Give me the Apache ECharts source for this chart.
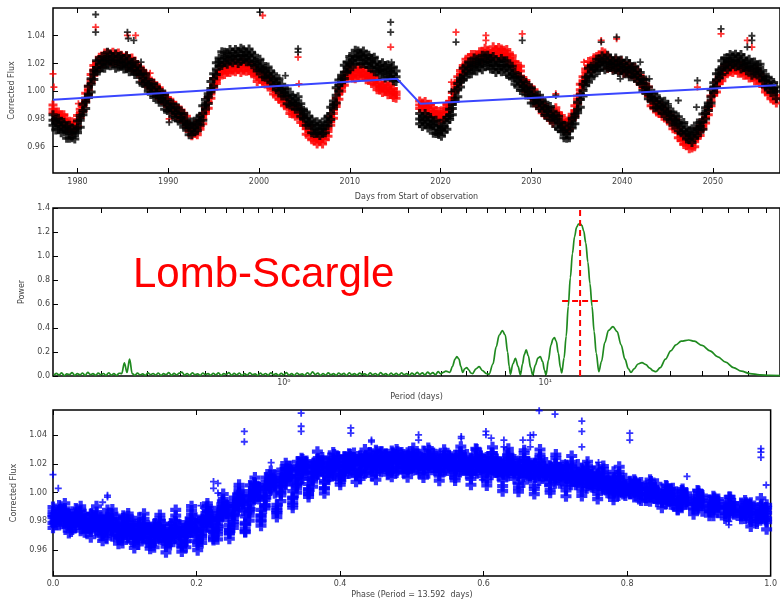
<!DOCTYPE html>
<html><head><meta charset="utf-8">
<script src="https://cdn.jsdelivr.net/npm/echarts@6.0.0/dist/echarts.min.js"></script>
<style>html,body{margin:0;padding:0;background:#fff}#c{width:780px;height:602px}</style>
</head><body><div id="c"></div>
<script>
// ---------- Panel 1: light curve (days from start of observation, corrected flux) ----------
const days = [
1977.3,1977.6,1977.9,1978.2,1978.5,1978.8,1979.1,1979.4,1979.7,1980.0,
1980.3,1980.6,1980.9,1981.2,1981.5,1981.8,1982.1,1982.4,1982.7,1983.0,
1983.3,1983.6,1983.9,1984.2,1984.5,1984.8,1985.1,1985.4,1985.7,1986.0,
1986.3,1986.6,1986.9,1987.2,1987.5,1987.8,1988.1,1988.4,1988.7,1989.0,
1989.3,1989.6,1989.9,1990.2,1990.5,1990.8,1991.1,1991.4,1991.7,1992.0,
1992.3,1992.6,1992.9,1993.2,1993.5,1993.8,1994.1,1994.4,1994.7,1995.0,
1995.3,1995.6,1995.9,1996.2,1996.5,1996.8,1997.1,1997.4,1997.7,1998.0,
1998.3,1998.6,1998.9,1999.2,1999.5,1999.8,2000.1,2000.4,2000.7,2001.0,
2001.3,2001.6,2001.9,2002.2,2002.5,2002.8,2003.1,2003.4,2003.7,2004.0,
2004.3,2004.6,2004.9,2005.2,2005.5,2005.8,2006.1,2006.4,2006.7,2007.0,
2007.3,2007.6,2007.9,2008.2,2008.5,2008.8,2009.1,2009.4,2009.7,2010.0,
2010.3,2010.6,2010.9,2011.2,2011.5,2011.8,2012.1,2012.4,2012.7,2013.0,
2013.3,2013.6,2013.9,2014.2,2014.5,2014.8,2015.1,
2017.7,2018.0,2018.3,2018.6,2018.9,2019.2,2019.5,2019.8,2020.1,2020.4,
2020.7,2021.0,2021.3,2021.6,2021.9,2022.2,2022.5,2022.8,2023.1,2023.4,
2023.7,2024.0,2024.3,2024.6,2024.9,2025.2,2025.5,2025.8,2026.1,2026.4,
2026.7,2027.0,2027.3,2027.6,2027.9,2028.2,2028.5,2028.8,2029.1,2029.4,
2029.7,2030.0,2030.3,2030.6,2030.9,2031.2,2031.5,2031.8,2032.1,2032.4,
2032.7,2033.0,2033.3,2033.6,2033.9,2034.2,2034.5,2034.8,2035.1,2035.4,
2035.7,2036.0,2036.3,2036.6,2036.9,2037.2,2037.5,2037.8,2038.1,2038.4,
2038.7,2039.0,2039.3,2039.6,2039.9,2040.2,2040.5,2040.8,2041.1,2041.4,
2041.7,2042.0,2042.3,2042.6,2042.9,2043.2,2043.5,2043.8,2044.1,2044.4,
2044.7,2045.0,2045.3,2045.6,2045.9,2046.2,2046.5,2046.8,2047.1,2047.4,
2047.7,2048.0,2048.3,2048.6,2048.9,2049.2,2049.5,2049.8,2050.1,2050.4,
2050.7,2051.0,2051.3,2051.6,2051.9,2052.2,2052.5,2052.8,2053.1,2053.4,
2053.7,2054.0,2054.3,2054.6,2054.9,2055.2,2055.5,2055.8,2056.1,2056.4,
2056.7,2057.0
];
const blackHigh = [
.983,.9795,.9805,.978,.9775,.9745,.9755,.9735,.9725,.9785,
.9825,.9905,.995,1.0035,1.009,1.015,1.022,1.0225,1.025,1.0245,
1.028,1.0268,1.025,1.027,1.025,1.0255,1.0235,1.0255,1.023,1.0205,
1.0215,1.018,1.0165,1.0125,1.0125,1.0085,1.005,1.0055,1.0025,1.001,
.9975,.998,.994,.9905,.991,.988,.988,.984,.984,.980,
.9765,.9778,.977,.9805,.982,.9895,.994,.9982,1.007,1.0125,
1.0205,1.024,1.0285,1.028,1.027,1.030,1.0285,1.030,1.0285,1.031,
1.0298,1.0283,1.0305,1.0275,1.026,1.022,1.023,1.020,1.0165,1.0175,
1.014,1.0125,1.009,1.009,1.005,1.0015,1.0015,.9975,.997,.9945,
.996,.991,.986,.985,.9815,.980,.9765,.978,.9765,.9755,
.980,.9815,.9885,.993,1.0025,1.0081,1.0115,1.0187,1.021,1.025,
1.0255,1.0295,1.029,1.0277,1.029,1.0263,1.026,1.0235,1.0245,1.0215,
1.0187,1.0205,1.0185,1.019,1.0167,1.0175,1.0145,
.984,.982,.984,.9815,.981,.9782,.979,.9758,.9745,.979,
.9811,.987,.9905,1.0005,1.0055,1.0095,1.0165,1.018,1.021,1.0205,
1.024,1.023,1.0225,1.026,1.0255,1.026,1.0235,1.025,1.0225,1.021,
1.0235,1.022,1.022,1.018,1.018,1.0135,1.010,1.0105,1.007,1.0062,
1.0025,1.0025,.9995,.9965,.997,.993,.992,.9885,.989,.9855,
.9825,.982,.9775,.9755,.9725,.977,.9804,.9835,.992,.9975,
1.005,1.010,1.0165,1.018,1.0186,1.023,1.023,1.0255,1.024,1.026,
1.024,1.022,1.024,1.022,1.0225,1.020,1.022,1.020,1.017,1.018,
1.015,1.0135,1.0085,1.008,1.003,.9985,.9985,.9955,.9945,.9915,
.9928,.989,.985,.985,.982,.9815,.977,.9775,.974,.971,
.973,.973,.977,.9775,.9835,.988,.9915,1.001,1.006,1.0125,
1.0155,1.022,1.0237,1.0235,1.0265,1.0255,1.0267,1.025,1.0265,1.024,
1.0217,1.023,1.0205,1.021,1.0191,1.0195,1.015,1.0105,1.010,1.007,
1.0062,1.003
];
const blackMid = [
.979,.977,.9755,.9745,.973,.9715,.970,.9695,.970,.9735,
.979,.986,.992,.998,1.005,1.0125,1.017,1.019,1.0205,1.0215,
1.0225,1.0228,1.0225,1.022,1.0215,1.021,1.0205,1.020,1.019,1.018,
1.0165,1.0145,1.012,1.0095,1.007,1.0045,1.0025,1.0005,.999,.9965,
.9945,.9925,.990,.988,.986,.9845,.9835,.981,.9785,.976,
.974,.9728,.9735,.976,.979,.984,.990,.9957,1.002,1.009,
1.016,1.021,1.023,1.024,1.0245,1.025,1.025,1.0255,1.0255,1.0255,
1.0258,1.0258,1.0255,1.024,1.0215,1.019,1.0175,1.016,1.014,1.0125,
1.0105,1.008,1.006,1.0035,1.001,.999,.9965,.994,.9925,.9915,
.9905,.987,.9835,.980,.978,.9755,.9735,.9725,.9725,.973,
.975,.978,.984,.990,.997,1.0041,1.009,1.0137,1.0175,1.0205,
1.0225,1.024,1.025,1.0252,1.024,1.0228,1.0215,1.0205,1.019,1.0175,
1.0162,1.0155,1.015,1.0145,1.0137,1.012,1.0105,
.980,.9795,.979,.978,.9765,.9752,.9735,.9718,.972,.974,
.9776,.9825,.9875,.995,1.0015,1.007,1.0115,1.0145,1.0165,1.0175,
1.0185,1.019,1.020,1.021,1.022,1.0215,1.0205,1.0195,1.0185,1.0185,
1.0185,1.0185,1.0175,1.015,1.0125,1.0095,1.0075,1.0055,1.0035,1.0017,
.9995,.997,.9955,.994,.992,.9895,.9875,.9855,.9835,.9815,
.980,.977,.974,.971,.9695,.9715,.9764,.981,.987,.994,
1.0005,1.007,1.011,1.014,1.0161,1.018,1.0195,1.021,1.021,1.0205,
1.020,1.0195,1.019,1.0185,1.018,1.017,1.0165,1.016,1.0145,1.013,
1.0115,1.009,1.0055,1.0025,.999,.996,.9935,.992,.990,.9885,
.9873,.985,.9825,.980,.9785,.977,.974,.972,.970,.9685,
.968,.9695,.9725,.9745,.978,.984,.989,.996,1.0025,1.008,
1.0125,1.0165,1.0197,1.021,1.0215,1.022,1.0222,1.022,1.021,1.020,
1.0192,1.018,1.017,1.0165,1.0161,1.014,1.011,1.008,1.005,1.0035,
1.0017,1.000
];
const blackLow = [
.9755,.972,.9725,.970,.9705,.966,.966,.9665,.9655,.970,
.974,.983,.9875,.9955,.9995,1.0085,1.014,1.0145,1.017,1.0165,
1.0195,1.0183,1.020,1.0165,1.0175,1.018,1.016,1.0165,1.014,1.015,
1.012,1.012,1.0065,1.0055,1.004,1.000,.999,.9955,.996,.992,
.992,.987,.986,.985,.9815,.981,.9785,.978,.974,.9735,
.9685,.9688,.9705,.9715,.9755,.979,.987,.9912,.9995,1.0035,
1.012,1.018,1.0185,1.0205,1.0195,1.022,1.0205,1.023,1.020,1.0215,
1.0228,1.0213,1.022,1.019,1.0185,1.0145,1.015,1.0105,1.010,1.0095,
1.006,1.0045,1.001,1.0005,.9965,.9965,.991,.990,.9895,.987,
.987,.982,.9805,.9755,.9755,.970,.9695,.9695,.968,.9695,
.970,.975,.9795,.9875,.9915,1.0001,1.006,1.0092,1.014,1.0155,
1.0195,1.0195,1.0225,1.0197,1.020,1.0198,1.017,1.017,1.014,1.0145,
1.0117,1.013,1.0095,1.0105,1.0107,1.0075,1.007,
.9765,.9745,.976,.9735,.974,.9697,.9695,.9688,.9675,.9705,
.9726,.9795,.983,.9925,.996,1.003,1.0085,1.010,1.013,1.0125,
1.0155,1.0145,1.0175,1.0155,1.018,1.0185,1.016,1.016,1.0135,1.0155,
1.014,1.016,1.012,1.011,1.0095,1.005,1.004,1.0005,1.0005,.9972,
.997,.9915,.9915,.991,.9875,.986,.9825,.9825,.979,.979,
.9745,.973,.971,.9665,.966,.9665,.9734,.9765,.9845,.9885,
.9965,1.004,1.0065,1.0105,1.0111,1.015,1.015,1.0185,1.0155,1.0165,
1.017,1.015,1.0155,1.0135,1.015,1.0125,1.014,1.0105,1.0105,1.010,
1.007,1.0055,1.0005,.9995,.9945,.9935,.988,.988,.987,.984,
.9838,.980,.9795,.9755,.976,.9715,.970,.969,.9655,.965,
.963,.9665,.968,.972,.9725,.980,.986,.9915,.999,1.003,
1.0095,1.012,1.0172,1.0155,1.0175,1.019,1.0177,1.0185,1.016,1.017,
1.0147,1.0155,1.0115,1.0125,1.0131,1.0095,1.0075,1.003,1.002,.999,
.9992,.9945
];
const redHigh = [
.990,.985,.985,.983,.983,.9805,.977,.978,.9775,.9825,
.987,.991,.9985,1.0035,1.012,1.0185,1.021,1.0245,1.025,1.0275,
1.0275,1.0268,1.028,1.0265,1.0275,1.026,1.0245,1.0255,1.0235,1.024,
1.0215,1.0185,1.0175,1.014,1.013,1.0095,1.0065,1.006,1.0035,1.0025,
.9995,.9965,.9955,.9925,.992,.9895,.9875,.9865,.983,.982,
.976,.9738,.976,.9745,.979,.983,.988,.9952,1.0005,1.009,
1.011,1.015,1.0185,1.0185,1.0205,1.020,1.019,1.021,1.020,1.0215,
1.0208,1.0198,1.021,1.0185,1.0175,1.014,1.0135,1.0135,1.0105,1.0105,
1.0075,1.004,1.0035,1.000,.999,.996,.9925,.9915,.989,.9895,
.9875,.983,.981,.9755,.975,.9715,.9685,.969,.968,.970,
.971,.973,.9815,.9865,.995,1.0011,1.005,1.0112,1.014,1.0185,
1.0145,1.015,1.0175,1.0167,1.017,1.0148,1.0125,1.013,1.0105,1.0085,
1.0062,1.0045,1.0055,1.004,1.0047,1.002,.9995,
.993,.9915,.9925,.9905,.9905,.9882,.9855,.9853,.9845,.988,
.9906,.9925,.999,1.0055,1.0105,1.015,1.0185,1.023,1.024,1.0265,
1.0265,1.026,1.0285,1.0285,1.031,1.0295,1.0275,1.032,1.030,1.0315,
1.0305,1.0295,1.030,1.0265,1.0255,1.0215,1.0185,1.018,1.008,1.0077,
1.0045,1.001,1.001,.9955,.995,.9915,.9885,.988,.985,.9845,
.988,.984,.9825,.9785,.9785,.9795,.9834,.9895,.9965,1.005,
1.0105,1.016,1.0215,1.0205,1.0241,1.025,1.0255,1.0285,1.0275,1.0245,
1.023,1.0215,1.0225,1.021,1.022,1.020,1.0185,1.0195,1.017,1.017,
1.0145,1.011,1.009,1.005,1.003,.996,.9925,.9925,.9895,.9895,
.9873,.984,.983,.9795,.9795,.973,.969,.9685,.9655,.9665,
.965,.9655,.973,.974,.979,.984,.988,.9965,1.002,1.007,
1.0105,1.0135,1.0182,1.0185,1.0205,1.020,1.0192,1.0205,1.0185,1.019,
1.0172,1.015,1.0155,1.014,1.0151,1.012,1.008,1.0065,1.0025,1.0025,
.9997,.997
];
const redMid = [
.987,.983,.9815,.9805,.979,.9775,.975,.9745,.975,.9785,
.984,.989,.995,1.001,1.008,1.0155,1.019,1.021,1.0225,1.0235,
1.0245,1.0248,1.0245,1.024,1.0235,1.023,1.0225,1.022,1.021,1.020,
1.0185,1.0165,1.014,1.0115,1.009,1.0065,1.0045,1.0025,1.001,.9985,
.9965,.9945,.992,.990,.988,.9865,.9855,.983,.9805,.978,
.973,.9718,.9725,.972,.975,.980,.986,.9917,.998,1.005,
1.008,1.013,1.015,1.016,1.0165,1.017,1.017,1.0175,1.0175,1.0175,
1.0178,1.0178,1.0175,1.016,1.0135,1.011,1.0115,1.010,1.008,1.0065,
1.0045,1.002,1.000,.9975,.995,.993,.9905,.988,.9865,.9855,
.9845,.981,.9775,.973,.971,.9685,.9665,.9655,.9655,.966,
.968,.971,.978,.984,.991,.9981,1.003,1.0077,1.0115,1.0145,
1.0115,1.013,1.014,1.0142,1.013,1.0118,1.0105,1.0095,1.008,1.0045,
1.0032,1.0025,1.002,1.0015,1.0007,.999,.9975,
.990,.9895,.989,.988,.9865,.9852,.9835,.9818,.982,.984,
.9876,.9905,.9955,1.003,1.0065,1.012,1.0165,1.0195,1.0215,1.0225,
1.0235,1.024,1.025,1.026,1.027,1.0265,1.0255,1.0285,1.0275,1.0275,
1.0275,1.0275,1.0265,1.024,1.0215,1.0185,1.0165,1.0145,1.0055,1.0037,
1.0015,.999,.9975,.993,.991,.9885,.9865,.9845,.9825,.9805,
.985,.982,.979,.976,.9745,.9765,.9814,.986,.994,1.001,
1.0075,1.014,1.018,1.018,1.0201,1.022,1.0235,1.025,1.025,1.0205,
1.020,1.0195,1.019,1.0185,1.018,1.017,1.0165,1.016,1.0145,1.013,
1.0115,1.009,1.0055,1.0025,.999,.993,.9905,.989,.987,.9855,
.9843,.982,.9795,.977,.9755,.970,.967,.965,.963,.9625,
.962,.9635,.9695,.9715,.975,.981,.986,.993,.9995,1.003,
1.0075,1.0115,1.0147,1.016,1.0165,1.017,1.0172,1.017,1.016,1.015,
1.0142,1.013,1.012,1.0115,1.0111,1.009,1.006,1.003,1.000,.9985,
.9967,.995
];
const redLow = [
.9845,.9795,.9795,.9765,.976,.974,.9725,.971,.973,.9745,
.981,.9855,.9925,.9975,1.006,1.0115,1.016,1.0175,1.020,1.020,
1.0225,1.0208,1.0215,1.0205,1.021,1.0195,1.0205,1.018,1.018,1.0165,
1.016,1.013,1.012,1.0075,1.006,1.003,1.002,.999,.999,.9945,
.9935,.991,.9895,.9865,.986,.9825,.9825,.9795,.978,.9745,
.971,.9678,.9695,.9685,.9725,.9765,.984,.9877,.995,1.0015,
1.0055,1.0095,1.013,1.012,1.0135,1.0135,1.0145,1.014,1.0155,1.0135,
1.0148,1.0143,1.015,1.0125,1.0115,1.007,1.0085,1.0065,1.0055,1.003,
1.0025,.998,.997,.994,.9925,.9895,.9885,.984,.9835,.982,
.982,.9775,.9755,.969,.968,.965,.964,.962,.9635,.962,
.965,.9675,.9755,.9805,.989,.9941,1.000,1.0042,1.009,1.011,
1.0095,1.009,1.011,1.0107,1.0105,1.0083,1.0085,1.0055,1.005,1.001,
1.0007,.999,1.000,.9975,.9977,.9955,.995,
.9875,.986,.987,.984,.9835,.9817,.981,.9783,.980,.980,
.9846,.987,.993,.9995,1.0045,1.008,1.0135,1.016,1.019,1.019,
1.0215,1.020,1.022,1.0225,1.0245,1.023,1.0235,1.0245,1.0245,1.024,
1.025,1.024,1.0245,1.020,1.0185,1.015,1.014,1.011,1.0035,.9997,
.9985,.9955,.995,.9895,.989,.9845,.9835,.981,.980,.977,
.983,.978,.976,.9725,.972,.973,.9794,.982,.991,.9975,
1.005,1.0105,1.016,1.014,1.0171,1.0185,1.021,1.0215,1.023,1.0165,
1.017,1.016,1.0165,1.015,1.016,1.013,1.0135,1.0125,1.012,1.0095,
1.0095,1.005,1.0025,.999,.9965,.9895,.9885,.985,.984,.982,
.9818,.9785,.9775,.973,.9725,.9665,.9645,.9615,.961,.9585,
.959,.960,.967,.968,.973,.977,.983,.9895,.997,.9995,
1.0055,1.0075,1.0117,1.0125,1.014,1.0135,1.0152,1.013,1.013,1.0115,
1.0117,1.0095,1.010,1.0075,1.0081,1.0055,1.0035,.9995,.998,.9945,
.9937,.9915
];
const blackOutlierDays = [1982.0,1982.0,1985.5,1985.6,1986.2,1987.0,1990.1,2000.1,2002.9,2004.3,2004.3,2014.5,2014.5,2014.6,2021.2,2021.7,2029.0,2032.7,2037.7,2039.4,2039.8,2042.0,2043.0,2045.1,2046.2,2048.2,2048.3,2050.9,2053.8,2054.3,2054.3];
const blackOutlierFlux = [1.0553,1.0426,1.0426,1.038,1.0366,1.021,.9776,1.057,1.0113,1.0306,1.0282,1.0498,1.0426,1.0209,.9997,1.0354,1.0366,.9969,1.0354,1.039,1.0089,1.021,1.0089,.9909,.9933,.9885,1.0077,1.045,1.0318,1.040,1.0366];
const redOutlierDays = [1977.3,1977.4,1980.1,1982.0,1985.5,1986.4,1987.3,1988.0,1990.1,2000.4,2004.3,2004.4,2014.5,2021.2,2021.7,2025.0,2025.0,2029.0,2032.7,2035.8,2037.7,2039.4,2048.3,2050.9,2053.8,2054.3];
const redOutlierFlux = [1.0125,1.003,.991,1.0462,1.0402,1.0402,1.015,1.013,.980,1.0546,1.0245,1.0053,1.0318,1.0065,1.0426,1.0402,1.0366,1.0414,.9981,1.0209,1.0366,1.0378,1.003,1.0414,1.0366,1.0318];
const trendDays = [1977.3, 2015.2, 2017.8, 2057.0];
const trendFlux = [0.9938, 1.009, 0.9909, 1.0042];
const dayTicks = [1980, 1990, 2000, 2010, 2020, 2030, 2040, 2050];
const fluxTicks = [0.96, 0.98, 1.00, 1.02, 1.04];

// ---------- Panel 2: Lomb-Scargle periodogram (log10 of period in days, power) ----------
const log10Period = [
-0.88,-0.87,-0.86,-0.85,-0.84,-0.83,-0.82,-0.81,-0.80,-0.79,
-0.78,-0.77,-0.76,-0.75,-0.74,-0.73,-0.72,-0.71,-0.70,-0.69,
-0.68,-0.67,-0.66,-0.65,-0.64,-0.63,-0.62,-0.61,-0.60,-0.59,
-0.58,-0.57,-0.56,-0.55,-0.54,-0.53,-0.52,-0.51,-0.50,-0.49,
-0.48,-0.47,-0.46,-0.45,-0.44,-0.43,-0.42,-0.41,-0.40,-0.39,
-0.38,-0.37,-0.36,-0.35,-0.34,-0.33,-0.32,-0.31,-0.30,-0.29,
-0.28,-0.27,-0.26,-0.25,-0.24,-0.23,-0.22,-0.21,-0.20,-0.19,
-0.18,-0.17,-0.16,-0.15,-0.14,-0.13,-0.12,-0.11,-0.10,-0.09,
-0.08,-0.07,-0.06,-0.05,-0.04,-0.03,-0.02,-0.01,0.00,0.01,
0.02,0.03,0.04,0.05,0.06,0.07,0.08,0.09,0.10,0.11,
0.12,0.13,0.14,0.15,0.16,0.17,0.18,0.19,0.20,0.21,
0.22,0.23,0.24,0.25,0.26,0.27,0.28,0.29,0.30,0.31,
0.32,0.33,0.34,0.35,0.36,0.37,0.38,0.39,0.40,0.41,
0.42,0.43,0.44,0.45,0.46,0.47,0.48,0.49,0.50,0.51,
0.52,0.53,0.54,0.55,0.56,0.57,0.58,0.59,0.60,0.61,
0.62,0.635,0.645,0.655,0.662,0.67,0.677,0.684,0.692,0.70,
0.708,0.715,0.722,0.735,0.747,0.76,0.775,0.785,0.80,0.812,
0.824,0.836,0.847,0.856,0.862,0.867,0.876,0.886,0.896,0.905,
0.913,0.92,0.927,0.935,0.944,0.952,0.962,0.972,0.981,0.99,
0.997,1.003,1.012,1.022,1.03,1.035,1.042,1.05,1.058,1.063,
1.072,1.08,1.088,1.096,1.104,1.112,1.12,1.127,1.133,1.14,
1.147,1.155,1.163,1.171,1.179,1.187,1.195,1.205,1.215,1.228,
1.242,1.259,1.275,1.29,1.305,1.318,1.328,1.34,1.355,1.37,
1.385,1.40,1.412,1.423,1.44,1.46,1.48,1.50,1.52,1.549,
1.57,1.60,1.63,1.66,1.69,1.72,1.75,1.783,1.82,1.86,
1.90
];
const power = [
.004,.022,.008,.026,.003,.018,.011,.028,.005,.02,
.009,.025,.004,.03,.012,.019,.006,.024,.01,.021,
.005,.027,.008,.02,.004,.023,.02,.11,.03,.14,
.02,.006,.024,.009,.018,.004,.026,.011,.021,.007,
.025,.005,.019,.012,.028,.006,.022,.009,.024,.032,
.008,.021,.005,.027,.01,.018,.004,.025,.012,.02,
.006,.023,.009,.026,.004,.019,.013,.028,.007,.022,
.01,.025,.005,.02,.008,.027,.011,.018,.004,.024,
.009,.021,.006,.026,.012,.019,.005,.023,.01,.028,
.007,.02,.004,.025,.011,.018,.006,.027,.009,.035,
.012,.024,.005,.021,.008,.026,.01,.019,.006,.025,
.011,.022,.004,.027,.009,.02,.007,.024,.013,.018,
.005,.026,.01,.021,.006,.028,.012,.019,.004,.025,
.009,.022,.007,.027,.011,.02,.005,.024,.01,.03,
.012,.026,.008,.033,.015,.028,.01,.036,.018,.03,
.04,.03,.08,.14,.161,.14,.08,.03,.06,.07,
.05,.025,.02,.06,.078,.045,.02,.015,.1,.24,
.34,.378,.34,.2,.08,.015,.1,.147,.08,.008,
.1,.18,.217,.17,.07,.008,.09,.15,.161,.12,
.05,.008,.13,.26,.31,.319,.29,.19,.07,.025,
.15,.33,.58,.82,1.02,1.16,1.24,1.265,1.27,1.255,
1.21,1.11,.95,.77,.58,.37,.19,.036,.12,.28,
.38,.411,.37,.26,.14,.06,.03,.06,.1,.111,
.095,.065,.045,.036,.07,.14,.21,.26,.29,.30,
.29,.255,.21,.16,.115,.07,.04,.02,.01,.005,
.003
];
const bestPeriod = 13.592;
const halfPower = 0.625;
const halfWidthPeriods = [11.6, 15.9];
const periodLabelTicks = [1, 10];
const periodTicks = [0.2,0.3,0.4,0.5,0.6,0.7,0.8,0.9,1,2,3,4,5,6,7,8,9,10,20,30,40,50,60,70];
const powerMax = 1.4;

// ---------- Panel 3: phase-folded light curve ----------
const phaseTicks = [0, 0.2, 0.4, 0.6, 0.8, 1.0];

// ---------- build ----------
const pairs = (xs, ys) => xs.map((x, i) => [x, ys[i]]);
const blackPts = pairs(days, blackHigh).concat(pairs(days, blackMid), pairs(days, blackLow));
const redPts = pairs(days, redHigh).concat(pairs(days, redMid), pairs(days, redLow));
const blackOut = pairs(blackOutlierDays, blackOutlierFlux);
const redOut = pairs(redOutlierDays, redOutlierFlux);
const epoch = days[0];
const fold = p => [(((p[0] - epoch) / bestPeriod) % 1 + 1) % 1, p[1]];
const phaseBand = redPts.concat(blackPts).map(fold);
const phaseOut = redOut.concat(blackOut).map(fold);
const lsLine = pairs(log10Period, power);
const bestLog = Math.log10(bestPeriod);

const PLUS = 'path://M3,0H6V3H9V6H6V9H3V6H0V3H3Z';
const PLUS_L = 'path://M3.4,0H7.6V3.4H11V7.6H7.6V11H3.4V7.6H0V3.4H3.4Z';
const PLUS_S = 'path://M2.6,0H4.4V2.6H7V4.4H4.4V7H2.6V4.4H0V2.6H2.6Z';
const FONT = 'DejaVu Sans';
const lab = (extra) => Object.assign({fontFamily: FONT, fontSize: 8, color: '#444'}, extra);
const tick = (vals) => ({show: true, inside: true, length: 5, lineStyle: {color: '#000', width: 1}, customValues: vals});
const nameStyle = {fontFamily: FONT, fontSize: 8, color: '#444'};
const base = {type: 'value', axisLine: {show: false, onZero: false}, splitLine: {show: false}};

const G = [
  {left: 53, top: 8, width: 734, height: 165},
  {left: 53, top: 208, width: 734, height: 168},
  {left: 53, top: 410, width: 734, height: 166}
].map(g => Object.assign(g, {show: true, borderColor: '#000', borderWidth: 1.5, backgroundColor: 'transparent'}));

const dayMin = 1977.3, dayMax = 2057.4;
const lpMin = -0.883, lpMax = 1.898;

const option = {
  animation: false,
  grid: G,
  xAxis: [
    Object.assign({}, base, {gridIndex: 0, position: 'bottom', min: dayMin, max: dayMax,
      axisTick: tick(dayTicks), axisLabel: lab({customValues: dayTicks, margin: 5, formatter: v => String(Math.round(v))}),
      name: 'Days from Start of observation', nameLocation: 'middle', nameGap: 20, nameTextStyle: nameStyle}),
    Object.assign({}, base, {gridIndex: 0, position: 'top', min: dayMin, max: dayMax,
      axisTick: tick(dayTicks), axisLabel: {show: false}}),
    Object.assign({}, base, {gridIndex: 1, position: 'bottom', min: lpMin, max: lpMax,
      axisTick: tick(periodTicks.map(Math.log10)),
      axisLabel: lab({customValues: periodLabelTicks.map(Math.log10), margin: 3,
        formatter: v => '10' + (Math.round(v) === 0 ? '\u2070' : '\u00b9')}),
      name: 'Period (days)', nameLocation: 'middle', nameGap: 17, nameTextStyle: nameStyle}),
    Object.assign({}, base, {gridIndex: 1, position: 'top', min: lpMin, max: lpMax,
      axisTick: tick(periodTicks.map(Math.log10)), axisLabel: {show: false}}),
    Object.assign({}, base, {gridIndex: 2, position: 'bottom', min: 0, max: 1,
      axisTick: tick(phaseTicks), axisLabel: lab({customValues: phaseTicks, margin: 4, formatter: v => v.toFixed(1)}),
      name: 'Phase (Period = 13.592  days)', nameLocation: 'middle', nameGap: 15, nameTextStyle: nameStyle}),
    Object.assign({}, base, {gridIndex: 2, position: 'top', min: 0, max: 1,
      axisTick: tick(phaseTicks), axisLabel: {show: false}})
  ],
  yAxis: [
    Object.assign({}, base, {gridIndex: 0, min: 0.941, max: 1.06,
      axisTick: tick(fluxTicks), axisLabel: lab({customValues: fluxTicks, margin: 8, formatter: v => v.toFixed(2)}),
      name: 'Corrected Flux', nameLocation: 'middle', nameGap: 21, nameTextStyle: nameStyle}),
    Object.assign({}, base, {gridIndex: 1, min: 0, max: powerMax, interval: 0.2,
      axisTick: {show: true, inside: true, length: 5, lineStyle: {color: '#000'}},
      axisLabel: lab({margin: 3, formatter: v => v.toFixed(1)}),
      name: 'Power', nameLocation: 'middle', nameGap: 14, nameTextStyle: nameStyle}),
    Object.assign({}, base, {gridIndex: 2, min: 0.942, max: 1.0575,
      axisTick: tick(fluxTicks), axisLabel: lab({customValues: fluxTicks, margin: 6, formatter: v => v.toFixed(2)}),
      name: 'Corrected Flux', nameLocation: 'middle', nameGap: 21, nameTextStyle: nameStyle})
  ],
  series: [
    {type: 'scatter', xAxisIndex: 0, yAxisIndex: 0, data: redPts, symbol: PLUS, symbolSize: 9, itemStyle: {color: '#ff0000'}, silent: true},
    {type: 'scatter', xAxisIndex: 0, yAxisIndex: 0, data: redOut, symbol: PLUS_S, symbolSize: 7, itemStyle: {color: '#ff0000'}, silent: true},
    {type: 'scatter', xAxisIndex: 0, yAxisIndex: 0, data: blackPts, symbol: PLUS, symbolSize: 9, itemStyle: {color: '#000000'}, silent: true},
    {type: 'scatter', xAxisIndex: 0, yAxisIndex: 0, data: blackOut, symbol: PLUS_S, symbolSize: 7, itemStyle: {color: '#000000'}, silent: true},
    {type: 'line', xAxisIndex: 0, yAxisIndex: 0, data: pairs(trendDays, trendFlux), symbol: 'none', lineStyle: {color: '#3a46ff', width: 2}, silent: true, z: 5},
    {type: 'line', xAxisIndex: 2, yAxisIndex: 1, data: lsLine, symbol: 'none', smooth: 0.35, smoothMonotone: 'x', lineStyle: {color: '#1f8a1f', width: 1.7}, silent: true},
    {type: 'line', xAxisIndex: 2, yAxisIndex: 1, data: [[bestLog, 0], [bestLog, powerMax]], symbol: 'none', lineStyle: {color: '#ff0000', width: 2, type: [6, 4]}, silent: true, z: 4},
    {type: 'line', xAxisIndex: 2, yAxisIndex: 1, data: halfWidthPeriods.map(p => [Math.log10(p), halfPower]), symbol: 'none', lineStyle: {color: '#ff0000', width: 2, type: [6, 4]}, silent: true, z: 4},
    {type: 'scatter', xAxisIndex: 4, yAxisIndex: 2, data: phaseBand, symbol: PLUS_L, symbolSize: 11, itemStyle: {color: '#0000ff'}, silent: true},
    {type: 'scatter', xAxisIndex: 4, yAxisIndex: 2, data: phaseOut, symbol: PLUS_S, symbolSize: 7, itemStyle: {color: '#0000ff'}, silent: true}
  ],
  graphic: [
    {type: 'text', x: 133, y: 275, z: 10, style: {text: 'Lomb-Scargle', font: '42px "Liberation Sans", Arial, sans-serif', fill: '#ff0000', verticalAlign: 'middle'}}
  ]
};
const chart = echarts.init(document.getElementById('c'), null, {renderer: 'canvas'});
chart.setOption(option);
</script>
</body></html>
